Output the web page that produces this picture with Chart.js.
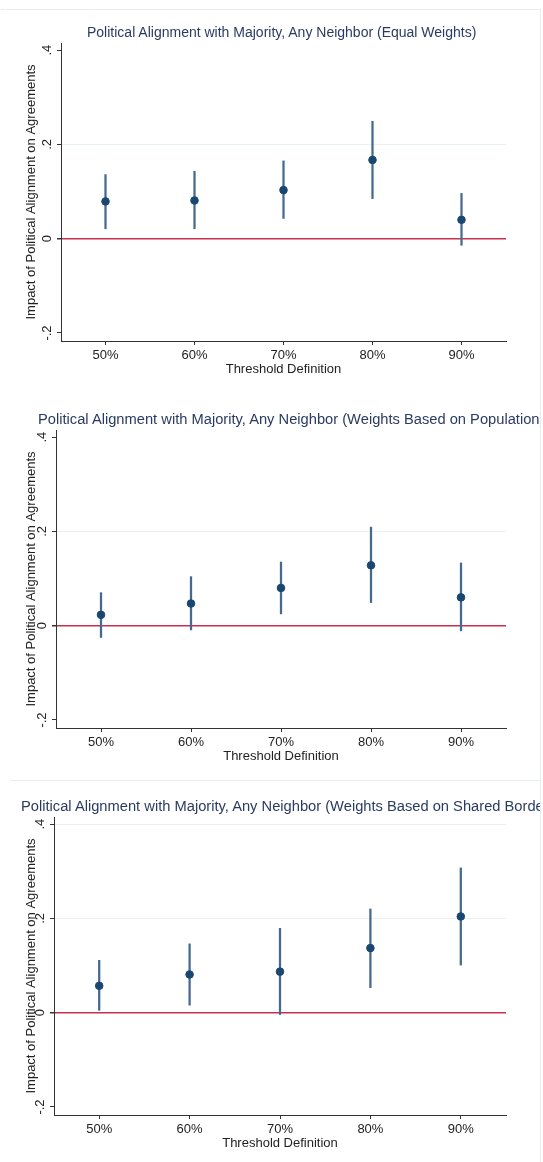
<!DOCTYPE html>
<html>
<head>
<meta charset="utf-8">
<script src="https://cdn.jsdelivr.net/npm/chart.js@4/dist/chart.umd.min.js"></script>
<style>
  html,body{margin:0;padding:0;background:#fff;}
  #page{position:relative;width:543px;height:1162px;overflow:hidden;font-family:"Liberation Sans",Arial,sans-serif;}
  .frame{position:absolute;left:1px;top:9px;width:539px;height:1160px;border-top:1px solid #e8eff1;border-right:1px solid #e8eff1;}
  .sep{position:absolute;left:10px;top:780px;width:530px;border-top:1px solid #e8eff1;}
  .panel{position:absolute;left:0;width:543px;height:388px;}
  .clip{position:absolute;left:0;top:0;width:540px;height:60px;overflow:hidden;}
  .ttl{position:absolute;white-space:nowrap;line-height:16px;color:#2a3b63;}
</style>
</head>
<body>
<div id="page">
  <div class="frame"></div>
  <div class="sep"></div>
</div>
<script>
'use strict';
const thresholds=['50%','60%','70%','80%','90%'];
// equal weights
const eqPoint=[0.079,0.081,0.103,0.167,0.040];
const eqLow=[0.021,0.021,0.043,0.085,-0.014];
const eqHigh=[0.136,0.143,0.165,0.249,0.096];
// weights based on population
const popPoint=[0.023,0.047,0.080,0.128,0.060];
const popLow=[-0.025,-0.009,0.025,0.049,-0.011];
const popHigh=[0.070,0.104,0.135,0.209,0.133];
// weights based on shared borders
const brdPoint=[0.057,0.081,0.087,0.137,0.204];
const brdLow=[0.005,0.016,-0.004,0.053,0.101];
const brdHigh=[0.111,0.146,0.179,0.220,0.307];

const yTickValues=[-0.2,0,0.2,0.4];
const yTickLabels=['-.2','0','.2','.4'];
const xTitle='Threshold Definition';
const yTitle='Impact of Political Alignment on Agreements';

const panels=[
  {title:'Political Alignment with Majority, Any Neighbor (Equal Weights)', pt:eqPoint, lo:eqLow, hi:eqHigh, top:0, left:61, tx:87, fs:14, topGrid:false},
  {title:'Political Alignment with Majority, Any Neighbor (Weights Based on Population)', pt:popPoint, lo:popLow, hi:popHigh, top:387, left:56, tx:38, fs:14.7, topGrid:false},
  {title:'Political Alignment with Majority, Any Neighbor (Weights Based on Shared Borders)', pt:brdPoint, lo:brdLow, hi:brdHigh, top:774, left:54, tx:21, fs:14.7, topGrid:true}
];

const FONT='"Liberation Sans", Arial, sans-serif';
const INK='#222';

function gridColor(ctx, p){
  const v=ctx.tick.value;
  if(v===0) return '#c8304f';
  if(v===0.2 || (v===0.4 && p.topGrid)) return '#e8f0f1';
  return 'rgba(0,0,0,0)';
}

function build(p){
  const page=document.getElementById('page');
  const box=document.createElement('div'); box.className='panel'; box.style.top=p.top+'px';
  const cv=document.createElement('canvas'); box.appendChild(cv);
  const clip=document.createElement('div'); clip.className='clip';
  const t=document.createElement('div'); t.className='ttl'; t.textContent=p.title;
  t.style.left=p.tx+'px'; t.style.top='24px'; t.style.fontSize=p.fs+'px';
  clip.appendChild(t); box.appendChild(clip);
  page.appendChild(box);

  return new Chart(cv,{type:'bar',
    data:{labels:thresholds,datasets:[
      {type:'line',data:p.pt,order:0,showLine:false,pointRadius:3.8,pointHoverRadius:3.8,pointBackgroundColor:'#1a476f',pointBorderColor:'#1a476f',borderColor:'#1a476f'},
      {type:'bar',data:p.lo.map((v,i)=>[v,p.hi[i]]),order:1,barThickness:1.6,backgroundColor:'#46698f',borderWidth:0}
    ]},
    options:{responsive:true,maintainAspectRatio:false,animation:false,
      layout:{padding:{left:20,right:37,top:43,bottom:10}},
      plugins:{legend:{display:false},tooltip:{enabled:false}},
      scales:{
        x:{type:'category',offset:true,
          grid:{offset:false,drawOnChartArea:false,drawTicks:true,tickLength:4,tickColor:'#333'},
          border:{display:true,color:'#333',width:1},
          ticks:{color:INK,font:{family:FONT,size:13},padding:3,maxRotation:0},
          title:{display:true,text:xTitle,color:INK,font:{family:FONT,size:13},padding:{top:0,bottom:1}},
          afterFit:s=>{s.height=37;}},
        y:{type:'linear',min:-0.217,max:0.415,
          afterBuildTicks:s=>{s.ticks=yTickValues.map(v=>({value:v}));},
          grid:{color:ctx=>gridColor(ctx,p),lineWidth:ctx=>ctx.tick.value===0?1.5:1,drawTicks:true,tickLength:4,tickColor:'#333'},
          border:{display:true,color:'#333',width:1},
          ticks:{color:INK,font:{family:FONT,size:13},padding:2,minRotation:90,maxRotation:90,crossAlign:'center',
            callback:(v,i)=>yTickLabels[i]},
          title:{display:true,text:yTitle,color:INK,font:{family:FONT,size:13},padding:{top:4,bottom:0}},
          afterFit:s=>{s.width=p.left-20;}}
      }}});
}
panels.forEach(build);
</script>
</body>
</html>
